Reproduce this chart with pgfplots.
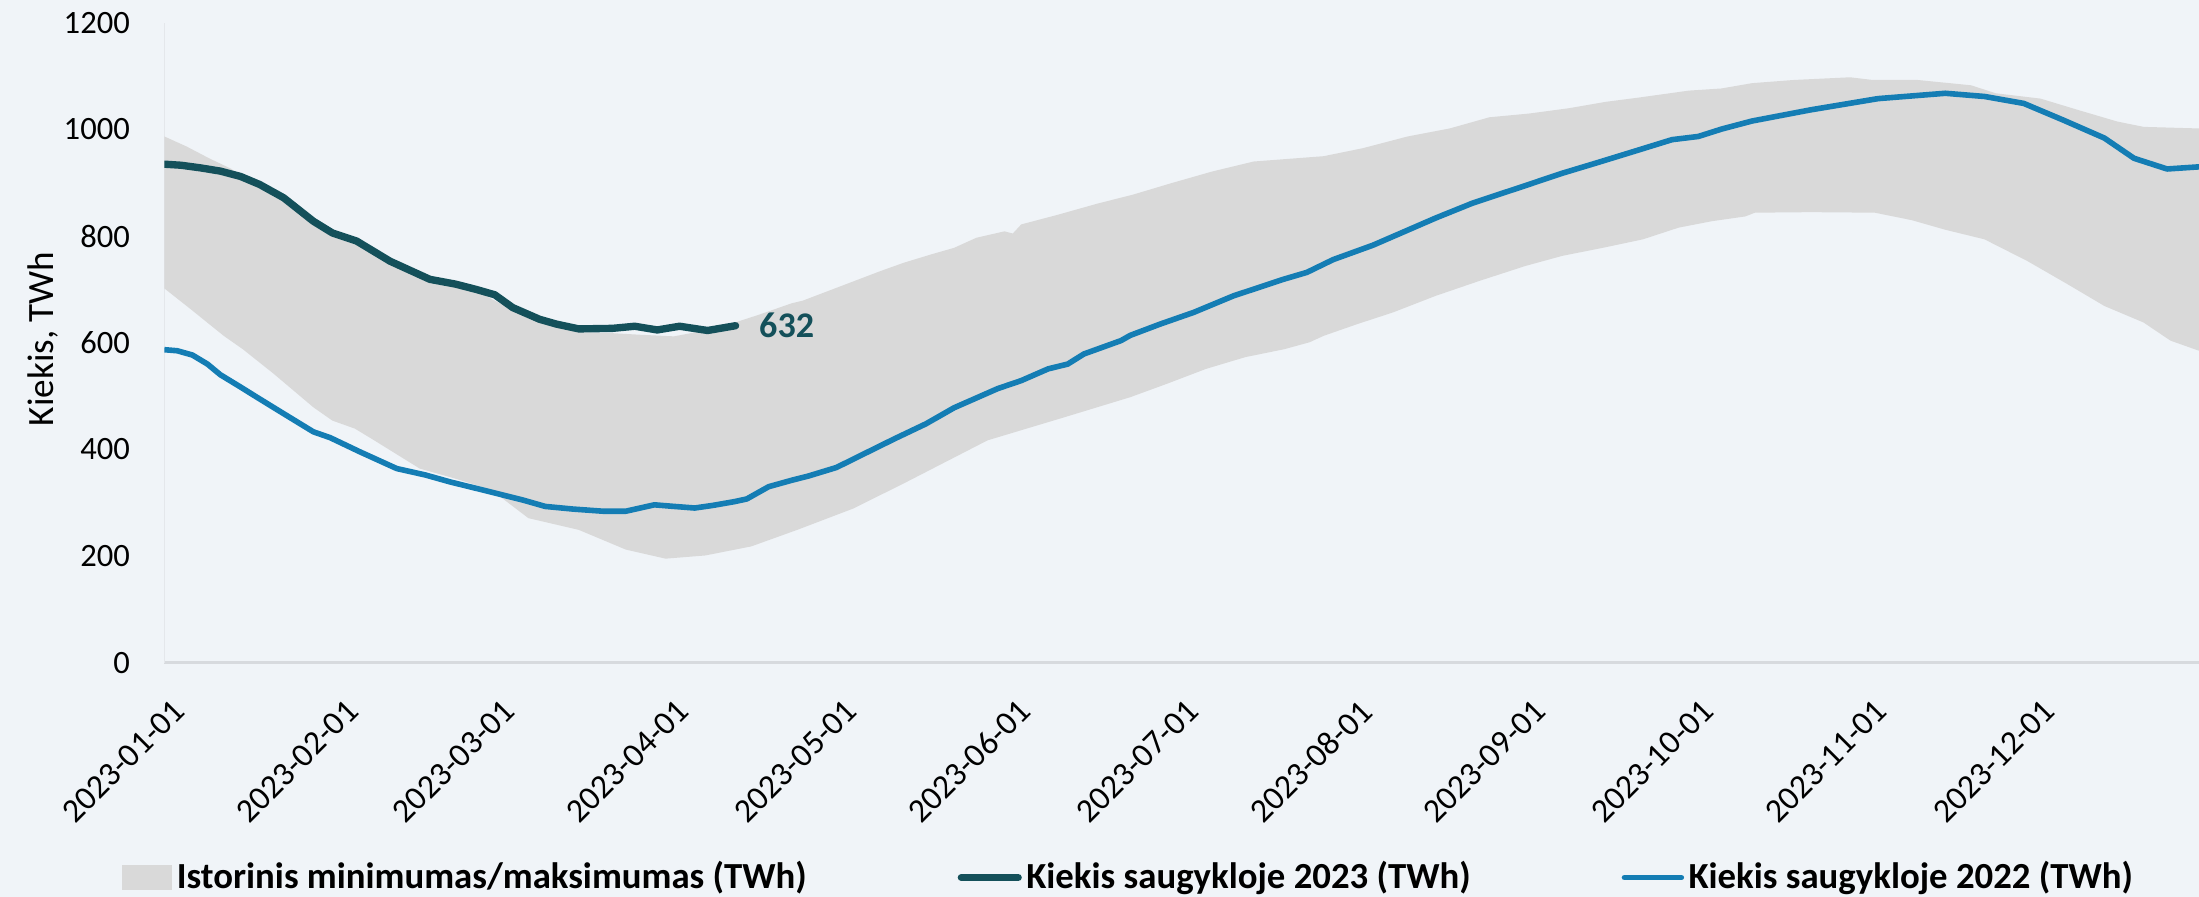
\documentclass[border=0pt]{standalone}
\usepackage{pgfplots}
\pgfplotsset{compat=1.18}
\usepgfplotslibrary{fillbetween}
\usepackage{pgfplotstable}
\usepackage{fontspec}
\setmainfont{Carlito}

\definecolor{bgcol}{RGB}{240,244,248}
\definecolor{bandgray}{RGB}{217,217,217}
\definecolor{teal23}{RGB}{20,80,90}
\definecolor{blue22}{RGB}{20,125,180}
\definecolor{axisgray}{RGB}{215,218,222}

% day of year, TWh
\pgfplotstableread{
d v
0 987
4 968
8 946
12 926
14 908
21 868
27 824
34 787
40 749
47 715
56 696
62 662
67 640
70 631
74 620
80 618
85 615
91 612
96 622
101 635
106 652
112 674
114 679
121 707
128 735
132 750
137 766
141 778
145 797
150 809
151.5 805
153 822
159.5 840
166.6 861
173 878
180 900
187 921
194.5 940
202 946
207 950
214 965
222 987
229.5 1002
236.6 1023
243.7 1030
250.8 1040
257.4 1052
263.3 1060
272.2 1073
278 1077
283.5 1087
291 1093
301 1098
305 1093
313 1093
322.6 1083
327 1068
335 1058
341.6 1037
348.7 1015
353.4 1005
363.3 1002
}\histmax

\pgfplotstableread{
d v
0 702
4.7 663
10.6 613
14 588
19.5 542
26.6 479
30 454
34 439
37 420
45.6 364
52 345
57.5 327
60 311
65 271
74 249
82.4 212
89.5 195
96.6 201
104.8 218
113 249
123 289
132 336
147 417
160 458
172.5 498
179 523
186 551
193 573
200 588
204.5 601
207 613
213 635
219.4 657
227 688
234.8 716
243 744
249.6 763
256.8 778
264 794
270.4 816
276.3 828
282.3 837
284 844
294 845
305.4 844
312 830
318 812
325 794
332.7 753
339.8 710
346.4 669
353.4 638
358.2 604
363.3 585
}\histmin

\pgfplotstableread{
d v
0 935
3 933
6.5 928
10 922
13.6 912
17 897
21.3 872
26.6 828
30 806
34.3 791
40.3 753
47.4 719
52 710
55.7 700
59 690
62.2 666
67 644
70 635
74 626
80 627
84 631
88 624
92 631
97 623
102 632
}\yeartwentythree

\pgfplotstableread{
d v
0 587
2.3 585
5 577
7.7 560
10 540
13.6 517
16.5 498
21.3 467
26.6 433
29.6 422
35 395
41.5 364
46.6 352
51 339
56.8 324
64 305
68 293
73 288
78.3 284
82.4 284
87.5 296
91 293
94.7 290
98 295
101.8 302
104 307
107.9 330
112 342
115 350
120 366
125 392
130.4 420
136 448
141 478
148.8 514
153 529
157.8 551
161.3 560
164.2 579
170.8 604
172.5 614
177.8 635
183.8 657
190.9 688
199.8 719
204 732
208.7 756
215.8 783
227 834
233.6 862
242.5 893
249.6 918
255.6 937
261.5 956
269.2 981
273.9 987
278.1 1001
283.5 1016
294 1037
306 1058
318 1068
325 1062
332 1049
339 1018
346.4 984
351.7 946
357.6 926
363.3 930
}\yeartwentytwo

\begin{document}
\pagecolor{bgcol}
\begin{tikzpicture}
\path (0,0) rectangle (219.9mm,90mm);
\begin{axis}[
  at={(15.7mm,23.5mm)}, anchor=south west,
  scale only axis, width=204.2mm, height=64.2mm,
  xmin=0, xmax=363.3, ymin=0, ymax=1200,
  axis lines*=left,
  x axis line style={draw=axisgray, line width=0.8pt},
  y axis line style={draw=axisgray!50!bgcol, line width=0.4pt},
  xtick={0,31,59,90,120,151,181,212,243,273,304,334},
  xticklabels={2023-01-01,2023-02-01,2023-03-01,2023-04-01,2023-05-01,2023-06-01,2023-07-01,2023-08-01,2023-09-01,2023-10-01,2023-11-01,2023-12-01},
  ytick={0,200,...,1200},
  major tick length=0pt,
  /pgf/number format/assume math mode=true,
  /pgf/number format/1000 sep={},
  yticklabel style={font=\fontsize{9.3}{10}\selectfont, anchor=east, inner sep=0pt, xshift=-3.4mm},
  xticklabel style={font=\fontsize{9.6}{10}\selectfont, xshift=1.5mm, yshift=-4.3mm, rotate=45, anchor=east, inner sep=0pt},
  ylabel={Kiekis, TWh},
  every axis y label/.style={at={(rel axis cs:0,0.5)}, xshift=-12.2mm, yshift=0.4mm, rotate=90, anchor=center, font=\fontsize{10.6}{12}\selectfont},
  legend columns=3,
  legend style={at={(rel axis cs:0.4745,-0.336)}, anchor=center, draw=none, fill=none,
    font=\bfseries\fontsize{10.5}{12}\selectfont, inner sep=0pt,
    nodes={inner xsep=0.45mm, inner ysep=0pt},
    /tikz/every even column/.append style={column sep=14.7mm}},
  legend cell align=left,
  legend image code/.code={\draw[#1, line cap=round] (0mm,0mm) -- (5.7mm,0mm);},
]
\addplot[name path=U, draw=none, forget plot] table[x=d, y=v] {\histmax};
\addplot[name path=L, draw=none, forget plot] table[x=d, y=v] {\histmin};
\addplot[fill=bandgray, draw=none, forget plot] fill between[of=U and L];

\addlegendimage{legend image code/.code={\fill[bandgray] (0mm,-1.2mm) rectangle (4.9mm,1.2mm);}}
\addlegendentry{Istorinis minimumas/maksimumas (TWh)}

\addplot[teal23, line width=2.1pt, line join=round, line cap=round] table[x=d, y=v] {\yeartwentythree};
\addlegendentry{Kiekis saugykloje 2023 (TWh)}

\addplot[blue22, line width=1.6pt, line join=round] table[x=d, y=v] {\yeartwentytwo};
\addlegendentry{Kiekis saugykloje 2022 (TWh)}

\node[anchor=west, xshift=2.3mm, inner sep=0pt, text=teal23, font=\bfseries\fontsize{10.3}{12}\selectfont] at (axis cs:102,632) {632};
\end{axis}
\pgfresetboundingbox
\path[use as bounding box] (0,0) rectangle (219.9mm,90mm);
\end{tikzpicture}
\end{document}
